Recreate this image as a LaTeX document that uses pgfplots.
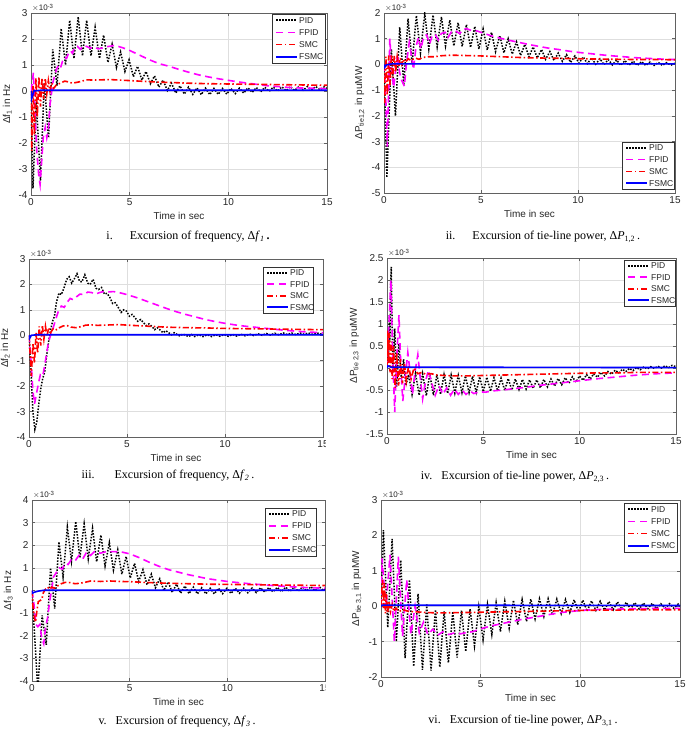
\documentclass[border=0pt]{standalone}
\usepackage{fontspec}
\setmainfont{Liberation Serif}
\setsansfont{Liberation Sans}
\usepackage{pgfplots}
\pgfplotsset{compat=1.18}

\definecolor{axgray}{RGB}{97,97,97}
\definecolor{gridgray}{RGB}{222,222,222}
\definecolor{cPID}{RGB}{0,0,0}
\definecolor{cFPID}{RGB}{255,0,255}
\definecolor{cSMC}{RGB}{255,0,0}
\definecolor{cFSMC}{RGB}{0,0,255}
\definecolor{labtxt}{RGB}{38,38,38}

\tikzset{
  pid/.style={draw=cPID, line width=1.5pt, dash pattern=on 1.5pt off 1.5pt},
  fpid/.style={draw=cFPID, line width=1.6pt, dash pattern=on 7pt off 4.5pt},
  smc/.style={draw=cSMC, line width=1.6pt, dash pattern=on 6pt off 2.5pt on 1.5pt off 2.5pt},
  fsmc/.style={draw=cFSMC, line width=1.6pt},
  legtext/.style={anchor=west, inner sep=0pt, text=labtxt, font=\sffamily\fontsize{8.5}{10}\selectfont},
}

\pgfplotsset{
  panel/.style={
    scale only axis,
    anchor=south west,
    xmin=0, xmax=15,
    xtick={0,5,10,15},
    grid=major,
    major grid style={draw=gridgray, line width=0.4pt},
    axis line style={draw=axgray, line width=0.5pt},
    tick style={draw=axgray, line width=0.5pt},
    major tick length=3pt,
    tick align=inside,
    tick label style={font=\sffamily\fontsize{10}{12}\selectfont, text=labtxt},
    /pgf/number format/assume math mode=true,
    label style={font=\sffamily\fontsize{10}{12}\selectfont, text=labtxt},
    xlabel={Time in sec},
    clip mode=individual,
  },
}
\newcommand{\expo}{\node[anchor=south west, inner sep=1pt, font=\sffamily\fontsize{8}{9}\selectfont, text=labtxt]
  at (rel axis cs:0,1) {$\times$10\textsuperscript{-3}};}

% legend box: left, top, right, bottom (in pt, top measured downward);
% the dashed samples are built from small filled bars
\newcommand{\mylegend}[4]{%
  \begin{scope}[x=1pt,y=1pt]
  \filldraw[fill=white, draw=black!80, line width=0.4pt] (#1,-#2) rectangle (#3,-#4);
  \pgfmathsetmacro{\rh}{(#4-#2)/4}%
  \pgfmathsetmacro{\ya}{-(#2+0.5*\rh)}%
  \pgfmathsetmacro{\yb}{-(#2+1.5*\rh)}%
  \pgfmathsetmacro{\yc}{-(#2+2.5*\rh)}%
  \pgfmathsetmacro{\yd}{-(#2+3.5*\rh)}%
  \draw[pid]  (#1+4,\ya) -- (#1+25,\ya);
  \fill[fill=cFPID] (#1+4,\yb-0.8) rectangle (#1+11,\yb+0.8);
  \fill[fill=cFPID] (#1+15.5,\yb-0.8) rectangle (#1+22.5,\yb+0.8);
  \fill[fill=cSMC] (#1+4,\yc-0.8) rectangle (#1+10,\yc+0.8);
  \fill[fill=cSMC] (#1+12.5,\yc-0.8) rectangle (#1+14,\yc+0.8);
  \fill[fill=cSMC] (#1+16.5,\yc-0.8) rectangle (#1+22.5,\yc+0.8);
  \fill[fill=cFSMC] (#1+4,\yd-0.8) rectangle (#1+25,\yd+0.8);
  \node[legtext] at (#1+27,\ya) {PID};
  \node[legtext] at (#1+27,\yb) {FPID};
  \node[legtext] at (#1+27,\yc) {SMC};
  \node[legtext] at (#1+27,\yd) {FSMC};
  \end{scope}}

\begin{document}
\begin{tikzpicture}
\path[use as bounding box] (0pt,0pt) rectangle (685pt,-730pt);

% ---------- (i) frequency deviation, area 1 ----------
\begin{axis}[panel, at={(31pt,-195pt)}, width=296pt, height=182pt,
  ymin=-4, ymax=3, ytick={-4,-3,...,3},
  ylabel={Δf\textsubscript{1} in Hz}]
\addplot[pid] coordinates {(0,0) (0.1,-3.75) (0.27,-0.4) (0.48,-3.45) (0.67,0.3) (0.89,-1.8) (1.1,1.6) (1.32,0.2) (1.53,2.4) (1.75,1.0) (1.96,2.72) (2.18,1.25) (2.39,2.85) (2.61,1.35) (2.82,2.72) (3.04,1.35) (3.25,2.45) (3.47,1.25) (3.68,2.15) (3.9,1.1) (4.11,1.8) (4.33,0.9) (4.54,1.5) (4.76,0.75) (4.97,1.2) (5.19,0.55) (5.4,0.95) (5.62,0.42) (5.83,0.75) (6.05,0.28) (6.26,0.58) (6.48,0.15) (6.69,0.42) (6.91,0.02) (7.12,0.3) (7.34,-0.08) (7.55,0.2) (7.77,-0.12) (7.98,0.15) (8.2,-0.13) (8.41,0.12) (8.63,-0.14) (8.84,0.11) (9.06,-0.14) (9.27,0.1) (9.49,-0.13) (9.7,0.1) (9.92,-0.12) (10.13,0.1) (10.35,-0.1) (10.56,0.11) (10.78,-0.08) (10.99,0.12) (11.21,-0.05) (11.42,0.13) (11.64,-0.03) (11.85,0.14) (12.07,-0.01) (12.28,0.15) (12.5,0.0) (12.71,0.16) (12.93,0.01) (13.14,0.17) (13.36,0.02) (13.57,0.17) (13.79,0.03) (14.0,0.17) (14.22,0.04) (14.43,0.17) (14.65,0.05) (14.86,0.16) (15,0.1)};
\addplot[fpid] coordinates {(0,0) (0.06,0.3) (0.12,0.7) (0.2,-0.8) (0.3,-2.4) (0.4,-3.3) (0.46,-3.6) (0.55,-2.6) (0.62,-1.8) (0.72,-1.4) (0.8,-1.8) (0.88,-1.5) (0.95,-0.6) (1.02,-0.2) (1.1,0.3) (1.2,0.6) (1.3,0.85) (1.4,1.0) (1.5,0.9) (1.6,1.15) (1.7,1.3) (1.8,1.25) (1.9,1.45) (2.0,1.55) (2.1,1.45) (2.2,1.65) (2.35,1.72) (2.5,1.6) (2.65,1.75) (2.8,1.72) (3.0,1.65) (3.2,1.7) (3.4,1.62) (3.6,1.65) (3.8,1.7) (4.0,1.72) (4.2,1.75) (4.4,1.72) (4.7,1.65) (5.0,1.56) (5.5,1.38) (6.0,1.2) (6.5,1.05) (7.0,0.95) (7.5,0.83) (8.0,0.72) (8.5,0.62) (9.0,0.54) (9.5,0.47) (10,0.41) (10.5,0.35) (11,0.3) (11.5,0.25) (12,0.2) (12.5,0.17) (13,0.14) (13.5,0.12) (14,0.11) (14.5,0.1) (15,0.09)};
\addplot[smc] coordinates {(0,0) (0.04,-2.3) (0.1,0.2) (0.17,-1.7) (0.25,0.5) (0.32,-1.0) (0.4,0.55) (0.48,-0.6) (0.56,0.5) (0.64,-0.3) (0.72,0.5) (0.8,-0.1) (0.88,0.4) (0.96,0.0) (1.05,0.3) (1.15,0.1) (1.3,0.25) (1.5,0.3) (1.7,0.38) (1.9,0.35) (2.1,0.3) (2.3,0.33) (2.5,0.36) (2.8,0.43) (3.2,0.42) (3.6,0.43) (4.0,0.44) (4.5,0.42) (5.0,0.4) (5.5,0.38) (6.0,0.36) (6.5,0.34) (7.0,0.33) (8.0,0.3) (9.0,0.28) (10,0.27) (11,0.26) (12,0.25) (13,0.24) (14,0.23) (15,0.22)};
\addplot[fsmc] coordinates {(0,0) (0.03,-0.3) (0.15,0.0) (0.5,0.03) (15,0.03)};
\expo
\end{axis}
\node[font=\rmfamily\fontsize{12}{14}\selectfont] at (188pt,-237pt) {i.\hspace{17pt}Excursion of frequency, Δ\textit{f}\textsubscript{\textit{1}}\,\textbf{.}};

% ---------- (ii) tie-line power 1-2 ----------
\begin{axis}[panel, at={(384pt,-193pt)}, width=291pt, height=180pt,
  ymin=-5, ymax=2, ytick={-5,-4,...,2},
  ylabel={ΔP\textsubscript{tie1,2} in puMW}]
\addplot[pid] coordinates {(0,0) (0.15,-4.4) (0.38,0.6) (0.59,-2.0) (0.81,1.45) (1.02,-0.8) (1.24,1.78) (1.45,0.05) (1.67,1.9) (1.88,0.45) (2.1,1.97) (2.31,0.6) (2.53,1.92) (2.74,0.68) (2.96,1.85) (3.17,0.72) (3.39,1.72) (3.6,0.72) (3.82,1.62) (4.03,0.7) (4.25,1.55) (4.46,0.66) (4.68,1.48) (4.89,0.6) (5.11,1.38) (5.32,0.56) (5.54,1.25) (5.75,0.5) (5.97,1.12) (6.18,0.45) (6.4,1.0) (6.61,0.4) (6.83,0.88) (7.04,0.35) (7.26,0.78) (7.47,0.3) (7.69,0.68) (7.9,0.25) (8.12,0.58) (8.33,0.2) (8.55,0.5) (8.76,0.16) (8.98,0.44) (9.19,0.12) (9.41,0.38) (9.62,0.08) (9.84,0.33) (10.05,0.05) (10.27,0.29) (10.48,0.03) (10.7,0.25) (10.91,0.01) (11.13,0.22) (11.34,-0.01) (11.56,0.19) (11.77,-0.02) (11.99,0.17) (12.2,-0.03) (12.42,0.15) (12.63,-0.03) (12.85,0.13) (13.06,-0.04) (13.28,0.11) (13.49,-0.04) (13.71,0.09) (13.92,-0.04) (14.14,0.08) (14.35,-0.04) (14.57,0.07) (14.78,-0.03) (15.0,0.05)};
\addplot[fpid] coordinates {(0,0) (0.08,-1.0) (0.17,-3.2) (0.24,-1.0) (0.3,1.0) (0.4,-0.3) (0.5,-0.9) (0.6,-0.2) (0.7,0.4) (0.8,-0.3) (0.9,-0.6) (1.05,-0.85) (1.15,0.0) (1.3,0.85) (1.42,0.3) (1.52,-0.2) (1.65,0.7) (1.78,1.05) (1.9,0.6) (2.05,1.1) (2.2,1.15) (2.35,0.8) (2.5,1.15) (2.65,1.15) (2.8,0.95) (2.95,1.2) (3.15,1.25) (3.3,1.05) (3.5,1.3) (3.7,1.3) (3.9,1.2) (4.1,1.38) (4.3,1.38) (4.5,1.32) (4.8,1.3) (5.1,1.22) (5.5,1.12) (6.0,1.02) (6.5,0.93) (7.0,0.85) (7.5,0.77) (8.0,0.7) (8.5,0.63) (9.0,0.58) (9.5,0.52) (10,0.47) (10.5,0.43) (11,0.39) (11.5,0.35) (12,0.32) (12.5,0.29) (13,0.26) (13.5,0.24) (14,0.22) (14.5,0.2) (15,0.19)};
\addplot[smc] coordinates {(0,0) (0.04,-1.5) (0.1,0.3) (0.17,-1.2) (0.24,0.35) (0.31,-0.8) (0.38,0.4) (0.45,-0.5) (0.53,0.35) (0.6,-0.3) (0.68,0.3) (0.76,-0.1) (0.84,0.25) (0.92,0.0) (1.0,0.2) (1.1,0.08) (1.25,0.22) (1.4,0.15) (1.6,0.25) (1.8,0.2) (2.0,0.27) (2.3,0.3) (2.6,0.3) (3.0,0.34) (3.5,0.36) (4.0,0.35) (5.0,0.33) (6.0,0.3) (7.0,0.27) (8.0,0.25) (9,0.24) (10,0.22) (11,0.21) (12,0.2) (13,0.19) (14,0.19) (15,0.18)};
\addplot[fsmc] coordinates {(0,0) (0.03,-0.12) (0.12,-0.02) (0.4,0.02) (15,0.02)};
\expo
\end{axis}
\node[font=\rmfamily\fontsize{12}{14}\selectfont] at (543pt,-237pt) {ii.\hspace{17pt}Excursion of tie-line power, Δ\textit{P}\textsubscript{1,2}\,.};

% ---------- (iii) frequency deviation, area 2 ----------
\begin{axis}[panel, at={(29pt,-437pt)}, width=294pt, height=178pt,
  ymin=-4, ymax=3, ytick={-4,-3,...,3},
  ylabel={Δf\textsubscript{2} in Hz}]
\addplot[pid] coordinates {(0,0) (0.1,-1.4) (0.2,-3.0) (0.3,-3.7) (0.4,-3.4) (0.5,-2.7) (0.6,-2.1) (0.7,-1.7) (0.8,-1.45) (0.9,-0.8) (1.0,-0.25) (1.1,0.2) (1.2,0.55) (1.3,0.75) (1.4,1.3) (1.53,1.66) (1.65,1.6) (1.78,1.85) (1.92,2.2) (2.05,2.3) (2.18,2.05) (2.3,2.2) (2.45,2.42) (2.58,2.12) (2.7,2.1) (2.85,2.38) (3.0,2.05) (3.12,2.0) (3.27,2.2) (3.42,1.85) (3.55,1.8) (3.7,1.88) (3.85,1.62) (3.98,1.65) (4.12,1.5) (4.27,1.25) (4.4,1.28) (4.55,1.1) (4.7,0.9) (4.83,1.0) (4.98,0.95) (5.12,0.75) (5.26,0.82) (5.4,0.7) (5.55,0.55) (5.7,0.62) (5.84,0.5) (5.98,0.38) (6.12,0.45) (6.27,0.35) (6.41,0.22) (6.55,0.3) (6.7,0.2) (6.84,0.1) (6.98,0.18) (7.13,0.1) (7.27,0.02) (7.41,0.1) (7.56,0.03) (7.7,-0.03) (7.85,0.05) (8.0,0.0) (8.15,-0.05) (8.3,0.03) (8.45,-0.05) (8.67,0.02) (8.88,-0.05) (9.1,0.02) (9.31,-0.05) (9.53,0.02) (9.74,-0.04) (9.96,0.03) (10.17,-0.04) (10.39,0.03) (10.6,-0.03) (10.82,0.04) (11.03,-0.02) (11.25,0.05) (11.46,-0.01) (11.68,0.06) (11.89,0.0) (12.11,0.07) (12.32,0.01) (12.54,0.08) (12.75,0.02) (12.97,0.09) (13.18,0.03) (13.4,0.09) (13.61,0.03) (13.83,0.09) (14.04,0.04) (14.26,0.09) (14.47,0.04) (14.69,0.09) (14.9,0.05) (15,0.07)};
\addplot[fpid] coordinates {(0,0) (0.1,-1.0) (0.2,-2.2) (0.28,-2.7) (0.38,-2.3) (0.48,-1.9) (0.58,-1.55) (0.7,-1.6) (0.8,-1.2) (0.9,-0.7) (1.0,-0.25) (1.1,0.0) (1.2,0.2) (1.35,0.6) (1.5,0.95) (1.65,1.15) (1.8,1.1) (1.95,1.3) (2.1,1.45) (2.25,1.4) (2.4,1.5) (2.6,1.62) (2.8,1.6) (3.0,1.7) (3.2,1.68) (3.4,1.62) (3.6,1.68) (3.8,1.72) (4.0,1.7) (4.3,1.72) (4.6,1.68) (5.0,1.6) (5.5,1.48) (6.0,1.34) (6.5,1.2) (7.0,1.06) (7.5,0.93) (8.0,0.82) (8.5,0.72) (9.0,0.62) (9.5,0.54) (10,0.47) (10.5,0.41) (11,0.36) (11.5,0.32) (12,0.28) (12.5,0.24) (13,0.2) (13.5,0.17) (14,0.14) (14.5,0.12) (15,0.1)};
\addplot[smc] coordinates {(0,0) (0.05,-0.6) (0.12,-1.6) (0.2,-0.3) (0.28,-1.1) (0.36,0.1) (0.44,-0.7) (0.52,0.35) (0.6,-0.4) (0.68,0.4) (0.76,-0.15) (0.84,0.35) (0.92,-0.05) (1.0,0.3) (1.1,0.1) (1.25,0.28) (1.4,0.22) (1.55,0.3) (1.75,0.37) (1.95,0.38) (2.15,0.32) (2.4,0.3) (2.65,0.34) (2.9,0.4) (3.2,0.41) (3.5,0.39) (3.8,0.4) (4.2,0.41) (4.6,0.42) (5,0.4) (5.5,0.38) (6,0.36) (6.5,0.34) (7,0.32) (8,0.3) (9,0.29) (10,0.27) (11,0.26) (12,0.25) (13,0.24) (14,0.23) (15,0.22)};
\addplot[fsmc] coordinates {(0,0) (0.03,-0.12) (0.12,0.0) (0.4,0.02) (15,0.02)};
\expo
\end{axis}
\fill[white] (325.5pt,-438pt) rectangle (345pt,-456pt);
\node[font=\rmfamily\fontsize{12}{14}\selectfont] at (168pt,-476pt) {iii.\hspace{20pt}Excursion of frequency, Δ\textit{f}\textsubscript{\textit{2}}\,.};

% ---------- (iv) tie-line power 2-3 ----------
\begin{axis}[panel, at={(387pt,-434pt)}, width=289pt, height=176pt,
  ymin=-1.5, ymax=2.5, ytick={-1.5,-1,...,2.5},
  ylabel={ΔP\textsubscript{tie 2,3} in puMW}]
\addplot[pid] coordinates {(0,0) (0.05,0.6) (0.08,0.2) (0.12,1.2) (0.15,0.6) (0.19,1.9) (0.22,2.3) (0.26,1.2) (0.31,-0.1) (0.4,0.9) (0.5,-0.42) (0.62,0.55) (0.74,-0.25) (0.86,0.2) (0.98,-0.4) (1.12,-0.15) (1.3,-0.6) (1.48,-0.12) (1.67,-0.62) (1.85,-0.13) (2.04,-0.63) (2.22,-0.14) (2.41,-0.62) (2.59,-0.15) (2.78,-0.6) (2.96,-0.15) (3.15,-0.58) (3.33,-0.16) (3.52,-0.57) (3.7,-0.17) (3.89,-0.56) (4.07,-0.18) (4.26,-0.56) (4.44,-0.19) (4.63,-0.55) (4.81,-0.2) (5.0,-0.54) (5.18,-0.21) (5.37,-0.53) (5.55,-0.22) (5.74,-0.52) (5.92,-0.23) (6.11,-0.51) (6.29,-0.24) (6.48,-0.5) (6.66,-0.25) (6.85,-0.49) (7.03,-0.26) (7.22,-0.48) (7.4,-0.27) (7.59,-0.46) (7.77,-0.27) (7.96,-0.45) (8.14,-0.26) (8.33,-0.43) (8.51,-0.25) (8.7,-0.41) (8.88,-0.24) (9.07,-0.38) (9.25,-0.22) (9.44,-0.35) (9.62,-0.2) (9.81,-0.32) (9.99,-0.18) (10.18,-0.28) (10.36,-0.15) (10.55,-0.25) (10.73,-0.13) (10.92,-0.21) (11.1,-0.1) (11.29,-0.18) (11.47,-0.08) (11.66,-0.14) (11.84,-0.05) (12.03,-0.11) (12.21,-0.03) (12.4,-0.08) (12.58,-0.01) (12.77,-0.06) (12.95,0.01) (13.14,-0.04) (13.32,0.02) (13.51,-0.02) (13.69,0.03) (13.88,-0.01) (14.06,0.04) (14.25,0.0) (14.43,0.05) (14.62,0.01) (14.8,0.06) (15,0.03)};
\addplot[fpid] coordinates {(0,0) (0.1,1.0) (0.2,2.0) (0.3,0.2) (0.4,-1.0) (0.5,0.2) (0.62,1.2) (0.72,0.0) (0.82,-0.75) (0.95,-0.2) (1.08,0.35) (1.2,-0.1) (1.32,-0.6) (1.45,-0.1) (1.6,0.3) (1.72,-0.2) (1.85,-0.7) (2.0,-0.3) (2.15,-0.05) (2.3,-0.3) (2.5,-0.62) (2.7,-0.4) (2.9,-0.6) (3.1,-0.45) (3.3,-0.62) (3.5,-0.48) (3.7,-0.6) (3.9,-0.5) (4.1,-0.6) (4.3,-0.52) (4.5,-0.58) (4.8,-0.54) (5.1,-0.55) (5.5,-0.52) (6,-0.5) (7,-0.45) (8,-0.39) (9,-0.34) (10,-0.29) (11,-0.24) (12,-0.2) (13,-0.16) (14,-0.13) (15,-0.11)};
\addplot[smc] coordinates {(0,0) (0.03,0.85) (0.07,0.1) (0.11,0.8) (0.16,-0.1) (0.21,0.6) (0.27,-0.25) (0.34,0.5) (0.42,-0.45) (0.5,0.35) (0.6,-0.4) (0.7,0.2) (0.8,-0.35) (0.9,0.12) (1.0,-0.3) (1.12,0.05) (1.25,-0.25) (1.4,0.0) (1.6,-0.13) (1.8,-0.1) (2.0,-0.14) (2.3,-0.13) (2.6,-0.16) (3.0,-0.17) (3.5,-0.18) (4,-0.18) (5,-0.17) (6,-0.16) (7,-0.15) (8,-0.14) (9,-0.13) (10,-0.12) (11,-0.11) (12,-0.11) (13,-0.1) (14,-0.1) (15,-0.1)};
\addplot[fsmc] coordinates {(0,0) (0.05,0.05) (0.2,0.02) (15,0.01)};
\expo
\end{axis}
\node[font=\rmfamily\fontsize{12}{14}\selectfont] at (515pt,-477pt) {iv.\hspace{9pt}Excursion of tie-line power, Δ\textit{P}\textsubscript{2,3}\,.};

% ---------- (v) frequency deviation, area 3 ----------
\begin{axis}[panel, at={(32pt,-681pt)}, width=293pt, height=181pt,
  ymin=-4, ymax=4, ytick={-4,-3,...,4},
  ylabel={Δf\textsubscript{3} in Hz}]
\addplot[pid] coordinates {(0,0) (0.1,-1.5) (0.3,-4.4) (0.52,-1.1) (0.73,-2.4) (0.95,1.0) (1.16,-0.8) (1.38,2.15) (1.59,0.6) (1.81,2.8) (2.02,1.3) (2.24,3.05) (2.45,1.45) (2.67,2.95) (2.88,1.4) (3.1,2.75) (3.31,1.27) (3.53,2.45) (3.74,1.08) (3.96,2.12) (4.17,0.9) (4.39,1.8) (4.6,0.72) (4.82,1.5) (5.03,0.55) (5.25,1.2) (5.46,0.4) (5.68,0.92) (5.89,0.25) (6.11,0.72) (6.32,0.12) (6.54,0.52) (6.75,0.0) (6.97,0.38) (7.18,-0.08) (7.4,0.28) (7.61,-0.12) (7.83,0.2) (8.04,-0.14) (8.26,0.15) (8.47,-0.15) (8.69,0.12) (8.9,-0.15) (9.12,0.1) (9.33,-0.15) (9.55,0.1) (9.76,-0.14) (9.98,0.1) (10.19,-0.13) (10.41,0.1) (10.62,-0.12) (10.84,0.1) (11.05,-0.1) (11.27,0.11) (11.48,-0.09) (11.7,0.12) (11.91,-0.07) (12.13,0.13) (12.34,-0.06) (12.56,0.14) (12.77,-0.05) (12.99,0.15) (13.2,-0.04) (13.42,0.16) (13.63,-0.03) (13.85,0.16) (14.06,-0.02) (14.28,0.17) (14.49,-0.02) (14.71,0.17) (14.92,-0.01) (15,0.05)};
\addplot[fpid] coordinates {(0,0) (0.1,-0.6) (0.2,-1.5) (0.3,-1.6) (0.4,-1.5) (0.5,-2.1) (0.6,-2.35) (0.7,-1.6) (0.8,-1.2) (0.9,-0.5) (1.0,0.0) (1.1,0.6) (1.25,0.8) (1.4,1.0) (1.55,0.95) (1.7,1.2) (1.85,1.15) (2.0,1.35) (2.2,1.3) (2.4,1.55) (2.6,1.4) (2.8,1.7) (3.0,1.55) (3.2,1.72) (3.5,1.65) (3.8,1.72) (4.2,1.72) (4.6,1.7) (5.0,1.62) (5.5,1.45) (6,1.25) (6.5,1.07) (7,0.92) (8,0.7) (9,0.52) (10,0.4) (11,0.31) (12,0.24) (13,0.18) (14,0.13) (15,0.1)};
\addplot[smc] coordinates {(0,0) (0.05,-0.7) (0.12,-1.2) (0.18,-1.4) (0.25,-0.9) (0.32,-0.5) (0.4,-0.45) (0.5,-0.4) (0.58,-0.1) (0.68,0.05) (0.8,0.15) (0.9,0.05) (1.0,0.15) (1.15,0.1) (1.3,0.2) (1.5,0.3) (1.7,0.36) (1.95,0.35) (2.2,0.3) (2.45,0.32) (2.7,0.36) (3.0,0.42) (3.5,0.4) (4.0,0.42) (4.5,0.4) (5.0,0.39) (5.5,0.37) (6.0,0.35) (7,0.32) (8,0.3) (9,0.28) (10,0.27) (11,0.26) (12,0.25) (13,0.24) (14,0.23) (15,0.22)};
\addplot[fsmc] coordinates {(0,0) (0.02,-0.12) (0.1,-0.08) (0.3,-0.03) (0.6,0.01) (15,0.01)};
\expo
\end{axis}
\fill[white] (325.5pt,-682pt) rectangle (345pt,-700pt);
\node[font=\rmfamily\fontsize{12}{14}\selectfont] at (177pt,-722pt) {v.\hspace{9pt}Excursion of frequency, Δ\textit{f}\textsubscript{\textit{3}}\,.};

% ---------- (vi) tie-line power 3-1 ----------
\begin{axis}[panel, at={(381pt,-677pt)}, width=299pt, height=177pt,
  ymin=-2, ymax=3, ytick={-2,-1,...,3},
  ylabel={ΔP\textsubscript{tie 3,1} in puMW}]
\addplot[pid] coordinates {(0,0) (0.12,2.15) (0.34,-0.6) (0.555,1.9) (0.77,-1.0) (0.99,1.3) (1.21,-1.47) (1.425,0.75) (1.64,-1.7) (1.86,0.35) (2.08,-1.8) (2.295,0.05) (2.51,-1.82) (2.73,-0.1) (2.95,-1.72) (3.165,-0.15) (3.38,-1.6) (3.6,-0.15) (3.82,-1.45) (4.035,-0.12) (4.25,-1.28) (4.47,-0.08) (4.69,-1.12) (4.905,-0.02) (5.12,-0.95) (5.34,0.05) (5.56,-0.8) (5.775,0.1) (5.99,-0.72) (6.21,0.14) (6.43,-0.62) (6.645,0.17) (6.86,-0.52) (7.08,0.19) (7.3,-0.43) (7.515,0.2) (7.73,-0.36) (7.95,0.21) (8.17,-0.29) (8.385,0.21) (8.6,-0.25) (8.82,0.2) (9.04,-0.21) (9.255,0.19) (9.47,-0.18) (9.69,0.18) (9.91,-0.16) (10.125,0.17) (10.34,-0.14) (10.56,0.15) (10.78,-0.12) (10.995,0.14) (11.21,-0.11) (11.43,0.13) (11.65,-0.1) (11.865,0.12) (12.08,-0.09) (12.3,0.11) (12.52,-0.08) (12.735,0.1) (12.95,-0.08) (13.17,0.09) (13.39,-0.07) (13.605,0.08) (13.82,-0.07) (14.04,0.07) (14.26,-0.06) (14.475,0.07) (14.69,-0.06) (14.91,0.06) (15,0.0)};
\addplot[fpid] coordinates {(0,0) (0.05,1.35) (0.25,-0.05) (0.45,1.45) (0.67,-1.0) (0.87,1.4) (1.08,-0.85) (1.29,0.75) (1.5,-0.8) (1.71,0.0) (1.92,-0.75) (2.13,-0.45) (2.35,-0.8) (2.6,-0.65) (2.85,-0.82) (3.1,-0.72) (3.4,-0.8) (3.7,-0.75) (4.0,-0.78) (4.3,-0.74) (4.6,-0.72) (5.0,-0.64) (5.5,-0.56) (6.0,-0.5) (6.5,-0.44) (7.0,-0.38) (7.5,-0.33) (8.0,-0.28) (8.5,-0.23) (9.0,-0.18) (9.5,-0.15) (10,-0.12) (11,-0.09) (12,-0.08) (13,-0.07) (14,-0.06) (15,-0.06)};
\addplot[smc] coordinates {(0,0) (0.04,0.5) (0.08,0.75) (0.12,-0.05) (0.17,0.65) (0.22,-0.2) (0.27,0.35) (0.33,-0.2) (0.4,0.15) (0.48,-0.15) (0.56,0.05) (0.65,-0.15) (0.75,-0.05) (0.9,-0.15) (1.1,-0.1) (1.4,-0.15) (1.8,-0.16) (2.3,-0.18) (3,-0.19) (4,-0.18) (5,-0.17) (6,-0.16) (7,-0.15) (8,-0.14) (9,-0.13) (10,-0.12) (11,-0.11) (12,-0.11) (13,-0.1) (14,-0.1) (15,-0.1)};
\addplot[fsmc] coordinates {(0,0) (0.05,0.03) (15,0.02)};
\expo
\end{axis}
\node[font=\rmfamily\fontsize{12}{14}\selectfont] at (523pt,-721pt) {vi.\hspace{9pt}Excursion of tie-line power, Δ\textit{P}\textsubscript{3,1}\,.};

% ---------- legends ----------
\mylegend{272}{14}{325}{63}
\mylegend{622}{142}{674}{189}
\mylegend{263}{267}{313}{313}
\mylegend{624}{260}{675}{306}
\mylegend{265}{508}{316}{556}
\mylegend{624}{503}{677}{552}

\end{tikzpicture}
\end{document}
